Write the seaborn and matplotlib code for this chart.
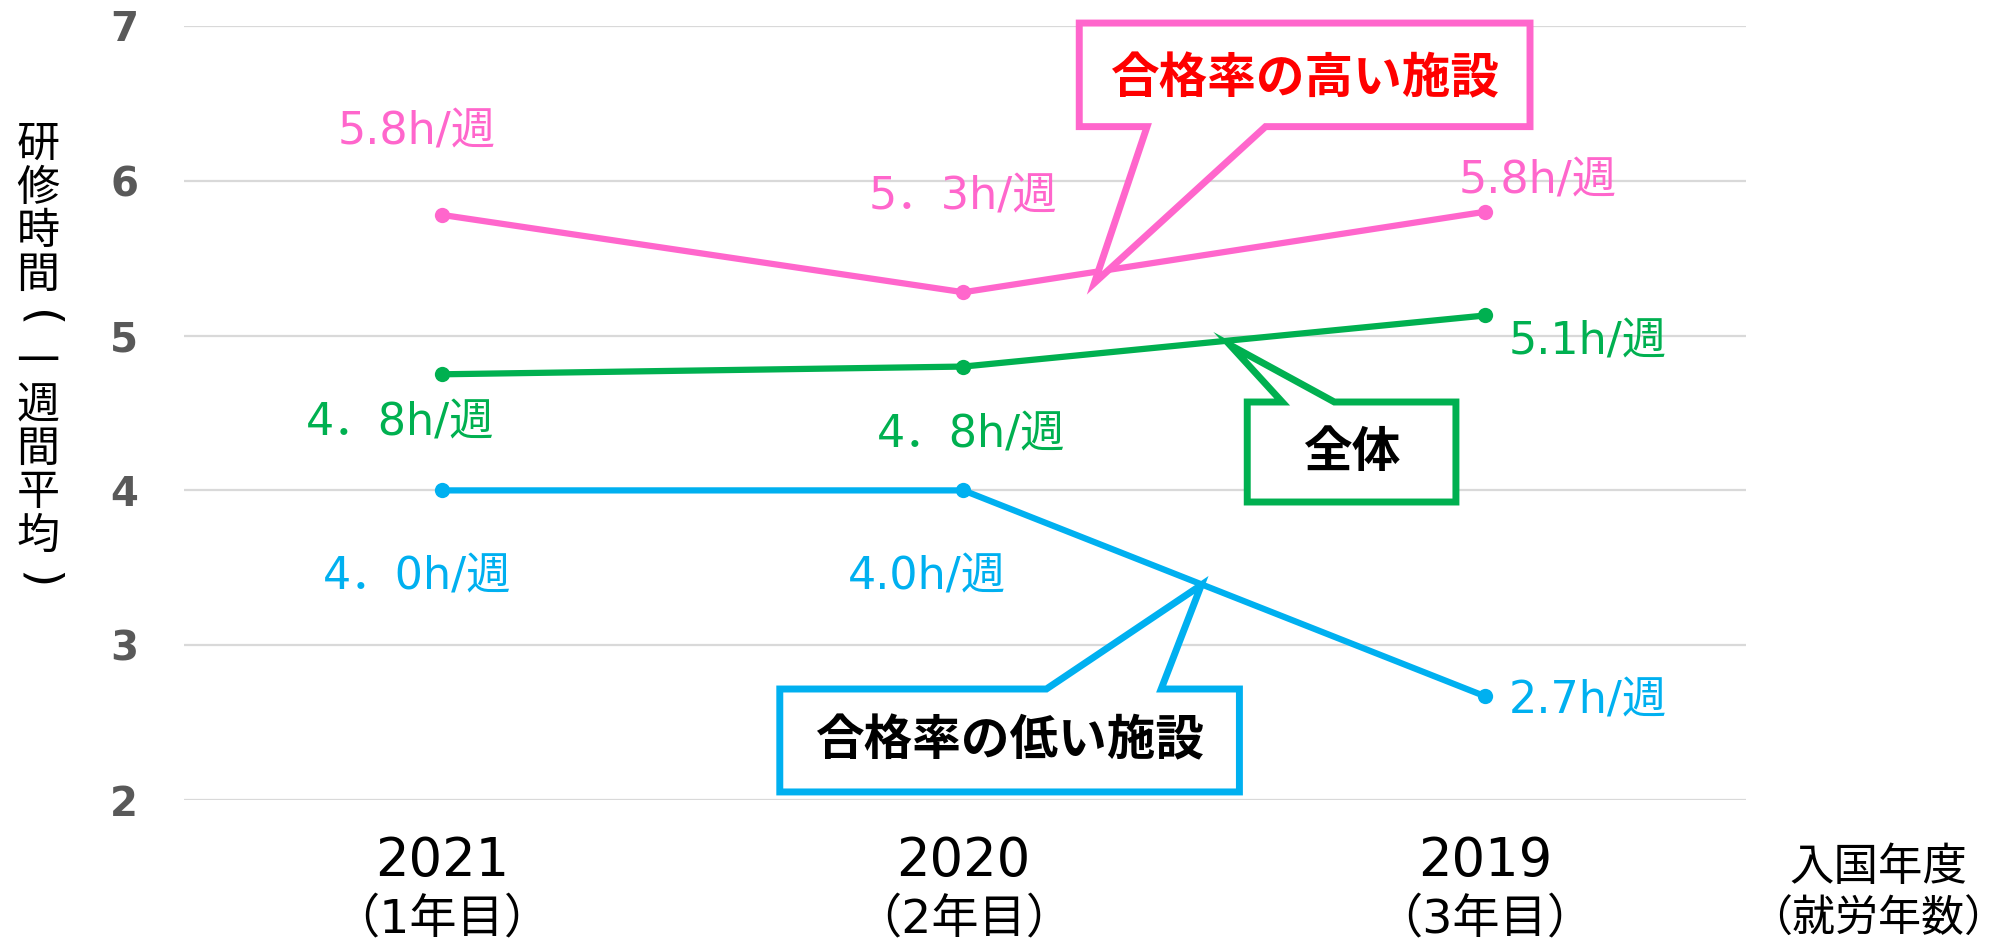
import matplotlib
matplotlib.use("Agg")
import matplotlib.pyplot as plt
import matplotlib.transforms as mtransforms
from matplotlib.patches import Polygon
import seaborn as sns
import pandas as pd

# data
years = ["2021", "2020", "2019"]
work_years = ["（1年目）", "（2年目）", "（3年目）"]
high_rate = [5.78, 5.28, 5.80]
overall = [4.75, 4.80, 5.13]
low_rate = [4.00, 4.00, 2.67]
high_labels = ["5.8h/週", "5．3h/週", "5.8h/週"]
overall_labels = ["4．8h/週", "4．8h/週", "5.1h/週"]
low_labels = ["4．0h/週", "4.0h/週", "2.7h/週"]
groups = ["合格率の高い施設", "全体", "合格率の低い施設"]
y_ticks = [2, 3, 4, 5, 6, 7]

PINK = "#FF66CC"
GREEN = "#00B050"
BLUE = "#00B0F0"

sns.set_theme(style="white")
plt.rcParams['font.family'] = ['Noto Sans CJK JP', 'DejaVu Sans']
LATIN_FIRST = ['DejaVu Sans', 'Noto Sans CJK JP']

df = pd.DataFrame({
    "pos": list(range(len(years))) * 3,
    "hours": high_rate + overall + low_rate,
    "group": [groups[0]] * 3 + [groups[1]] * 3 + [groups[2]] * 3,
})

fig = plt.figure(figsize=(20.16, 9.46), dpi=100)
ax = fig.add_axes([184 / 2016, 1 - 800 / 946, (1746 - 184) / 2016, (800 - 26) / 946])

sns.lineplot(data=df, x="pos", y="hours", hue="group",
             palette={groups[0]: PINK, groups[1]: GREEN, groups[2]: BLUE},
             marker="o", markersize=11, markeredgewidth=0, linewidth=4.5,
             legend=False, ax=ax, zorder=3)

ax.set_xlim(-0.494, 2.5)
ax.set_ylim(2, 7)
ax.set_yticks(y_ticks)
ax.set_yticklabels([str(t) for t in y_ticks], fontsize=29, fontweight="bold",
                   color="#595959", family=['DejaVu Sans'])
ax.set_xticks(range(len(years)))
ax.set_xticklabels(years, fontsize=38, color="black", family=['DejaVu Sans'])
ax.tick_params(axis="y", length=0, pad=33)
ax.tick_params(axis="x", length=0, pad=25)
ax.set_xlabel("")
ax.set_ylabel("")
ax.grid(axis="y", color="#D9D9D9", linewidth=1.6)
ax.grid(axis="x", visible=False)
for s in ax.spines.values():
    s.set_visible(False)

# second line under each year
trans = mtransforms.blended_transform_factory(ax.transData, fig.transFigure)
for i, w in enumerate(work_years):
    ax.text(i, 1 - 920 / 946, w, transform=trans, ha="center", va="center",
            fontsize=34, color="black", family=LATIN_FIRST)

fig.text(1878 / 2016, 1 - 867 / 946, "入国年度", ha="center", va="center",
         fontsize=32, color="black")
fig.text(1878 / 2016, 1 - 920 / 946, "（就労年数）", ha="center", va="center",
         fontsize=31, color="black")

# vertical y label, one character per line (brackets turned for vertical writing)
ylab = "研修時間(一週間平均)"
for k, ch in enumerate(ylab):
    y = 1 - (145 + k * 43.5) / 946
    if ch in "()":
        fig.text(38 / 2016, y, ch, ha="center", va="center", rotation=-90,
                 fontsize=34, color="black", family=['DejaVu Sans'])
    else:
        fig.text(38 / 2016, y, ch, ha="center", va="center",
                 fontsize=31, color="black")

# value labels
offsets = {
    0: [(-25, 83), (0, 95), (53, 31)],
    1: [(-42, -49), (8, -68), (103, -26)],
    2: [(-25, -87), (-36, -87), (103, -5)],
}
series = [(high_rate, high_labels, PINK), (overall, overall_labels, GREEN),
          (low_rate, low_labels, BLUE)]
for si, (vals, labs, col) in enumerate(series):
    for i, (v, lab) in enumerate(zip(vals, labs)):
        ax.annotate(lab, (i, v), xytext=offsets[si][i], textcoords="offset pixels",
                    ha="center", va="center", fontsize=32, color=col,
                    family=LATIN_FIRST, annotation_clip=False)

# callout boxes (data coords)
def callout(box, base, tip, tail_top, edge, text, text_color, text_xy):
    L, R, T, B = box
    b1, b2 = base
    if tail_top:
        pts = [(L, T), (b1, T), tip, (b2, T), (R, T), (R, B), (L, B)]
    else:
        pts = [(L, T), (R, T), (R, B), (b2, B), tip, (b1, B), (L, B)]
    poly = Polygon(pts, closed=True, facecolor="white", edgecolor=edge,
                   linewidth=5, joinstyle="miter", zorder=5, clip_on=False)
    ax.add_patch(poly)
    ax.text(text_xy[0], text_xy[1], text, ha="center", va="center",
            fontsize=35, fontweight="bold", color=text_color, zorder=6)

callout((1.222, 2.086, 7.019, 6.35), (1.352, 1.579), (1.251, 5.34), False,
        PINK, groups[0], "#FF0000", (1.653, 6.66))
callout((1.544, 1.944, 4.571, 3.925), (1.611, 1.711), (1.511, 4.939), True,
        GREEN, groups[1], "black", (1.744, 4.248))
callout((0.648, 1.529, 2.717, 2.052), (1.159, 1.379), (1.456, 3.389), True,
        BLUE, groups[2], "black", (1.088, 2.385))

fig.savefig("out.png", dpi=100, facecolor="white")
